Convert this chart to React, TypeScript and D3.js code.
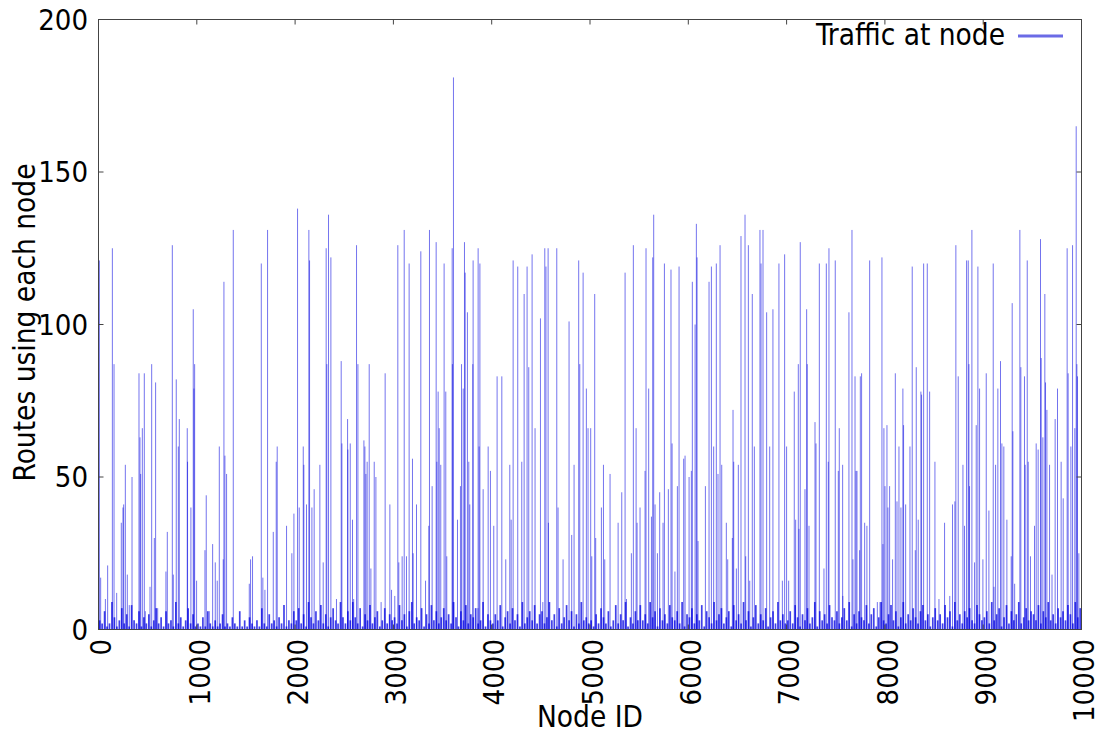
import React from 'react';
import * as d3 from 'd3';

// tall routes (>= 100), [node id, routes]
const tallSpikes: [number, number][] = [
  [9, 121], [141, 125], [751, 126], [964, 105], [1276, 114], [1371, 131], [1656, 120], [1720, 131],
  [2025, 138], [2140, 131], [2147, 121], [2316, 125], [2340, 136], [2364, 122], [2625, 126], [3045, 126],
  [3110, 131], [3160, 120], [3279, 124], [3367, 131], [3435, 127], [3516, 120], [3598, 125], [3611, 181],
  [3723, 127], [3730, 117], [3753, 104], [3811, 121], [3862, 125], [3880, 120], [4218, 121], [4265, 119],
  [4330, 110], [4360, 119], [4411, 123], [4496, 102], [4540, 125], [4552, 119], [4574, 125], [4662, 125],
  [4787, 101], [4885, 121], [4930, 117], [5048, 110], [5357, 117], [5441, 126], [5570, 125], [5638, 122],
  [5648, 136], [5757, 120], [5824, 118], [5906, 119], [6041, 114], [6069, 100], [6082, 133], [6089, 122],
  [6211, 114], [6235, 119], [6285, 120], [6323, 126], [6536, 129], [6577, 136], [6611, 126], [6651, 110],
  [6729, 131], [6740, 120], [6760, 131], [6797, 104], [6861, 105], [6922, 120], [6980, 123], [7139, 127],
  [7204, 105], [7333, 120], [7404, 120], [7431, 125], [7495, 121], [7634, 104], [7665, 131], [7845, 121],
  [7970, 122], [8278, 119], [8394, 120], [8431, 120], [8722, 126], [8831, 121], [8848, 121], [8885, 131],
  [8946, 119], [9102, 120], [9295, 107], [9373, 131], [9448, 121], [9583, 128], [9627, 110], [9854, 125],
  [9909, 126], [9946, 165],
];

// middle routes (20 - 99)
const midSpikes: [number, number][] = [
  [93, 21], [158, 87], [232, 35], [249, 40], [256, 41], [273, 54], [341, 50], [412, 84], [422, 63],
  [429, 51], [446, 66], [466, 84], [541, 87], [568, 30], [581, 81], [700, 32], [791, 82], [812, 60],
  [822, 69], [903, 66], [906, 55], [940, 40], [971, 79], [978, 87], [1083, 26], [1096, 44], [1161, 28],
  [1188, 22], [1229, 60], [1269, 23], [1286, 57], [1303, 51], [1547, 23], [1567, 24], [1778, 32],
  [1808, 55], [1818, 60], [1913, 34], [1967, 25], [1988, 38], [2042, 40], [2083, 60], [2089, 54],
  [2116, 41], [2171, 40], [2194, 46], [2252, 54], [2286, 22], [2323, 87], [2469, 88], [2476, 61],
  [2534, 69], [2537, 59], [2561, 61], [2584, 36], [2639, 87], [2700, 62], [2710, 60], [2720, 51],
  [2733, 55], [2754, 87], [2771, 20], [2805, 55], [2822, 50], [2916, 84], [2964, 41], [3055, 22],
  [3089, 24], [3133, 24], [3194, 56], [3201, 25], [3235, 41], [3360, 34], [3394, 47], [3442, 55],
  [3455, 78], [3466, 66], [3482, 54], [3533, 78], [3543, 24], [3600, 87], [3652, 36], [3682, 47],
  [3693, 87], [3710, 79], [3767, 55], [3777, 41], [3808, 87], [3872, 60], [3913, 46], [3964, 60],
  [3987, 52], [4021, 34], [4055, 83], [4103, 83], [4143, 23], [4184, 54], [4198, 36], [4306, 55],
  [4377, 86], [4441, 66], [4577, 35], [4675, 40], [4726, 23], [4814, 31], [4838, 54], [4896, 87],
  [4963, 79], [4980, 66], [5007, 66], [5018, 24], [5058, 30], [5116, 40], [5137, 54], [5150, 23],
  [5204, 51], [5286, 35], [5323, 45], [5421, 25], [5469, 66], [5479, 35], [5509, 40], [5560, 52],
  [5597, 79], [5625, 37], [5662, 41], [5686, 25], [5709, 45], [5743, 35], [5797, 46], [5835, 61],
  [5889, 47], [5953, 56], [5967, 57], [6008, 50], [6031, 52], [6099, 29], [6174, 47], [6258, 60],
  [6302, 51], [6340, 54], [6387, 35], [6401, 23], [6448, 30], [6455, 72], [6462, 55], [6489, 20],
  [6509, 54], [6584, 24], [6672, 60], [6828, 60], [7000, 60], [7078, 78], [7092, 36], [7119, 87],
  [7126, 33], [7187, 46], [7210, 87], [7228, 34], [7289, 68], [7299, 61], [7380, 20], [7424, 55],
  [7526, 52], [7536, 66], [7570, 54], [7675, 23], [7696, 83], [7706, 52], [7716, 52], [7743, 26],
  [7750, 83], [7763, 84], [7794, 35], [7817, 34], [7980, 28], [7990, 66], [8001, 47], [8021, 67],
  [8031, 40], [8048, 47], [8078, 23], [8106, 84], [8123, 42], [8143, 60], [8163, 40], [8183, 79],
  [8190, 67], [8211, 41], [8255, 60], [8309, 26], [8319, 86], [8339, 36], [8366, 78], [8373, 77],
  [8455, 78], [8509, 55], [8607, 35], [8688, 41], [8712, 42], [8746, 83], [8794, 54], [8810, 34],
  [8855, 87], [8861, 47], [8912, 22], [8929, 67], [8963, 79], [8997, 23], [9031, 84], [9058, 39],
  [9126, 54], [9149, 79], [9176, 88], [9190, 61], [9210, 60], [9241, 36], [9285, 24], [9302, 65],
  [9383, 86], [9420, 83], [9427, 54], [9458, 55], [9481, 24], [9522, 34], [9539, 61], [9559, 59],
  [9590, 89], [9607, 63], [9634, 81], [9648, 72], [9675, 54], [9732, 69], [9756, 79], [9793, 55],
  [9814, 43], [9864, 84], [9892, 60], [9932, 66], [9953, 87], [9959, 83], [9973, 25],
];

// small routes (< 20)
const lowSpikes: [number, number][] = [
  [22, 17], [70, 10], [185, 12], [293, 18], [313, 8], [476, 6], [524, 14], [602, 7], [686, 19],
  [761, 18], [998, 16], [1127, 6], [1208, 16], [1534, 15], [1672, 17], [1693, 13], [2421, 10],
  [2596, 10], [2875, 9], [2981, 13], [3014, 11], [3327, 16], [3860, 7], [4520, 9], [5371, 10],
  [5864, 19], [6625, 16], [6957, 16], [7021, 16], [7572, 11], [7923, 9], [7950, 9], [8550, 10],
  [8660, 11], [9110, 14], [9320, 15], [9700, 18],
];

// background traffic, one value every 25 nodes
const baseline: number[] = [
  3, 2, 6, 1, 2, 9, 4, 1, 3, 7, 2, 5, 1, 8, 3, 2, 6, 1, 4, 2,
  5, 1, 3, 7, 2, 4, 1, 6, 2, 3, 1, 9, 2, 4, 1, 3, 7, 2, 5, 1,
  2, 1, 4, 1, 6, 2, 1, 3, 1, 2, 5, 1, 2, 1, 4, 2, 1, 6, 1, 3,
  1, 4, 2, 1, 3, 1, 7, 2, 1, 5, 2, 3, 1, 4, 2, 8, 1, 3, 2, 6,
  3, 7, 2, 5, 1, 9, 4, 2, 6, 3, 8, 2, 5, 1, 4, 7, 3, 2, 9, 4,
  2, 6, 3, 9, 4, 2, 7, 1, 5, 3, 8, 2, 4, 6, 1, 3, 7, 2, 5, 3,
  4, 2, 8, 3, 5, 1, 6, 9, 2, 4, 3, 7, 1, 5, 2, 8, 3, 6, 2, 4,
  7, 3, 5, 2, 9, 4, 1, 6, 3, 8, 2, 5, 4, 7, 2, 3, 9, 1, 5, 3,
  2, 5, 3, 8, 1, 4, 6, 2, 7, 3, 5, 1, 9, 2, 4, 6, 3, 8, 2, 5,
  6, 2, 4, 9, 3, 5, 1, 7, 2, 4, 8, 3, 6, 1, 5, 2, 9, 3, 4, 2,
  3, 1, 5, 2, 7, 4, 2, 6, 1, 3, 8, 2, 5, 3, 9, 1, 4, 2, 6, 3,
  8, 3, 5, 2, 9, 4, 6, 1, 7, 3, 5, 2, 8, 4, 3, 6, 2, 9, 1, 5,
  4, 7, 2, 5, 3, 8, 1, 6, 4, 2, 9, 3, 5, 7, 2, 4, 6, 1, 8, 3,
  5, 2, 9, 3, 6, 1, 4, 8, 2, 5, 3, 7, 1, 4, 6, 2, 9, 3, 5, 2,
  3, 6, 2, 8, 4, 1, 5, 3, 7, 2, 4, 9, 1, 6, 3, 5, 2, 8, 4, 3,
  6, 2, 4, 7, 3, 9, 1, 5, 2, 6, 4, 3, 8, 2, 5, 7, 1, 4, 9, 3,
  2, 5, 8, 3, 6, 1, 4, 9, 2, 5, 3, 7, 4, 2, 6, 8, 3, 5, 1, 4,
  7, 3, 5, 2, 8, 4, 6, 1, 9, 3, 5, 2, 6, 4, 7, 3, 2, 8, 5, 3,
  4, 6, 2, 9, 3, 5, 7, 1, 4, 8, 2, 6, 3, 5, 9, 2, 4, 7, 3, 6,
  5, 3, 8, 2, 6, 4, 9, 3, 5, 2, 7, 4, 6, 3, 8, 5, 2, 9, 4, 7,
];

const xTicks = [0, 1000, 2000, 3000, 4000, 5000, 6000, 7000, 8000, 9000, 10000];
const yTicks = [0, 50, 100, 150, 200];

const width = 1101;
const height = 735;
const font = "'DejaVu Sans Condensed', 'DejaVu Sans', sans-serif";
const blue = '#0000e0';

const App: React.FC = () => {
  const margin = { top: 19.5, right: 19.5, bottom: 105.5, left: 98.5 };
  const x = d3.scaleLinear().domain([0, 10000]).range([margin.left, width - margin.right]);
  const y = d3.scaleLinear().domain([0, 200]).range([height - margin.bottom, margin.top]);

  const baseSpikes: [number, number][] = baseline.map((v, i) => [i * 25 + 12, v]);
  const spikes = [...lowSpikes, ...midSpikes, ...tallSpikes];

  const x0 = x(0), x1 = x(10000), y0 = y(0), y1 = y(200);

  return (
    <svg width={width} height={height} style={{ position: 'absolute', left: 0, top: 0, background: '#fff' }}
      fontFamily={font}>
      {/* impulses */}
      <g stroke={blue} strokeWidth={1.7} strokeOpacity={0.75}>
        {baseSpikes.map(([n, v], i) => (
          <line key={i} x1={x(n)} x2={x(n)} y1={y0} y2={y(v)} />
        ))}
      </g>
      <g stroke={blue} strokeWidth={1} strokeOpacity={0.55}>
        {spikes.map(([n, v], i) => (
          <line key={i} x1={x(n)} x2={x(n)} y1={y0} y2={y(v)} />
        ))}
      </g>

      {/* frame */}
      <rect x={x0} y={y1} width={x1 - x0} height={y0 - y1} fill="none" stroke="#444" strokeWidth={1} />

      {/* y ticks */}
      {yTicks.map(t => (
        <g key={t}>
          <line x1={x0} x2={x0 + 5} y1={y(t)} y2={y(t)} stroke="#444" />
          <line x1={x1} x2={x1 - 5} y1={y(t)} y2={y(t)} stroke="#444" />
          <text x={88} y={y(t)} dy="0.36em" textAnchor="end" fontSize={29} fill="#000">{t}</text>
        </g>
      ))}

      {/* x ticks */}
      {xTicks.map(t => (
        <g key={t}>
          <line x1={x(t)} x2={x(t)} y1={y0} y2={y0 - 5} stroke="#444" />
          <line x1={x(t)} x2={x(t)} y1={y1} y2={y1 + 5} stroke="#444" />
          <text transform={`translate(${x(t)},639) rotate(-90)`} dy="0.44em" textAnchor="end"
            fontSize={29} fill="#000">{t}</text>
        </g>
      ))}

      {/* axis titles */}
      <text x={(x0 + x1) / 2} y={727} textAnchor="middle" fontSize={29.5} fill="#000">Node ID</text>
      <text transform={`translate(35,${(y0 + y1) / 2 - 2}) rotate(-90)`} textAnchor="middle" fontSize={29.5}
        fill="#000">Routes using each node</text>

      {/* legend */}
      <text x={1005} y={45} textAnchor="end" fontSize={29.5} fill="#000">Traffic at node</text>
      <line x1={1018} x2={1063} y1={36} y2={36} stroke="#6b6be6" strokeWidth={3} />
    </svg>
  );
};

export default App;
